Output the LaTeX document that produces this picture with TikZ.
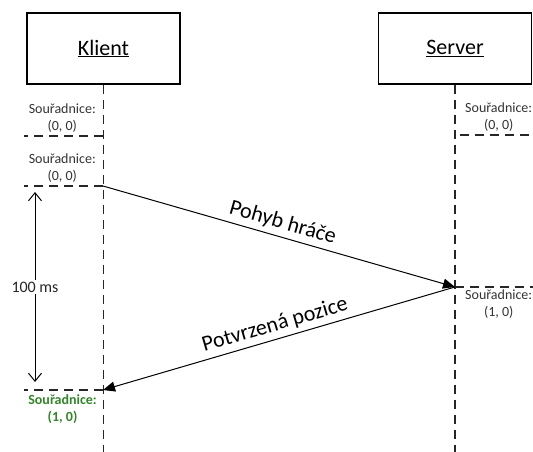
\documentclass[tikz,border=0pt]{standalone}
\usepackage{fontspec}
\setmainfont{Carlito}
\usepackage{tikz}
\usetikzlibrary{arrows.meta,positioning}
\definecolor{okgreen}{RGB}{52,132,44}
\tikzstyle{lifebox} = [draw,line width=1.3pt,rectangle,minimum width=153pt,minimum height=71pt,inner sep=0,font=\fontsize{22}{26}\selectfont]
\tikzstyle{lifeline} = [line width=1.3pt,black!85,dash pattern=on 9pt off 6pt]
\tikzstyle{coordlabel} = [align=center,inner sep=0,text=black!80,font=\fontsize{14}{17}\selectfont]
\tikzstyle{msg} = [-{Triangle[length=12pt,width=10pt]},line width=1pt]
\tikzstyle{msglabel} = [sloped,above,inner sep=4pt,font=\fontsize{22}{26}\selectfont]
\tikzstyle{span} = [{Straight Barb[length=8pt,width=13pt]}-{Straight Barb[length=8pt,width=13pt]},line width=1pt]
\def \tl {79pt}

\begin{document}
\begin{tikzpicture}[x=1pt,y=1pt]
      \useasboundingbox (0,0) rectangle (533,-452);
      \node[lifebox] (klient) at (103.5,-48.5) {\underline{Klient}};
      \node[lifebox] (server) at (455,-48.5) {\underline{Server}};
      \coordinate (k0) at (103,-136);
      \coordinate (k1) at (103,-186);
      \coordinate (k2) at (103,-390);
      \coordinate (s0) at (455,-135);
      \coordinate (s1) at (455,-287);
      \draw[lifeline] (klient.south) -- (klient.south |- 0,-452);
      \draw[lifeline] (server.south) -- (server.south |- 0,-452);
      \draw[lifeline] (k0) -- +(-\tl,0);
      \draw[lifeline] (k1) -- +(-\tl,0);
      \draw[lifeline] (k2) -- +(-\tl,0);
      \draw[lifeline] ([xshift=5pt]s0) -- +(78,0);
      \draw[lifeline] (s1) -- +(78,0);
      \node[coordlabel,above left=3pt and 7pt of k0] (k0l) {Souřadnice:\\(0, 0)};
      \node[coordlabel,above left=3pt and 7pt of k1] (k1l) {Souřadnice:\\(0, 0)};
      \node[coordlabel,above right=3pt and 10pt of s0] (s0l) {Souřadnice:\\(0, 0)};
      \node[coordlabel,below right=3pt and 10pt of s1] (s1l) {Souřadnice:\\(1, 0)};
      \node[coordlabel,text=okgreen,font=\fontsize{14}{17}\bfseries,below left=4pt and 6pt of k2] (k2l) {Souřadnice:\\(1, 0)};
      \draw[msg] (k1) -- (s1) node[msglabel,midway] (move) {Pohyb hráče};
      \draw[msg] (s1) -- (k2) node[msglabel,midway] (ack) {Potvrzená pozice};
      % round trip
      \coordinate (t0) at (35,-192);
      \coordinate (t1) at (35,-382);
      \draw[span] (t0) -- (t1)
        node[midway,fill=white,inner sep=2pt,text=black!85,font=\fontsize{16}{19}\selectfont] (rtt) {100 ms};
    \end{tikzpicture}
\end{document}
